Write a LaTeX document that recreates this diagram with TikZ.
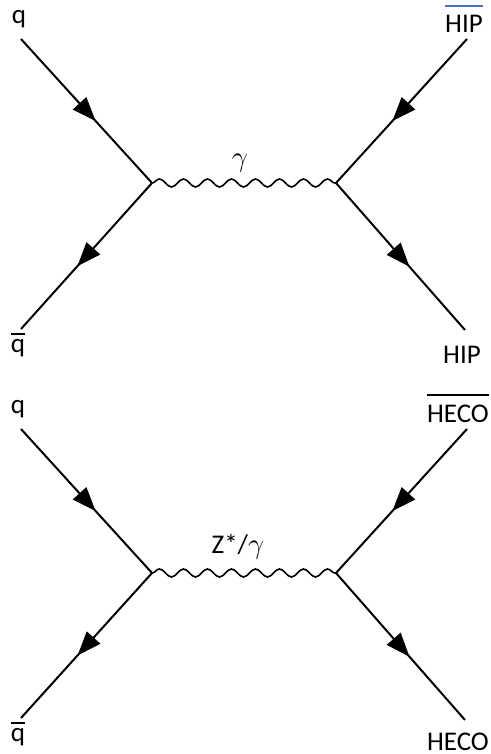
\documentclass[tikz,border=0pt]{standalone}
\usepackage{fontspec}
\setmainfont{Carlito}
\usetikzlibrary{arrows.meta, decorations.pathmorphing, decorations.markings}
\definecolor{hipblue}{RGB}{68,114,196}
\newcommand{\barred}[3][4.2pt]{\setbox0\hbox{#3}\rlap{\color{#2}\rule[\dimexpr\ht0+#1\relax]{\wd0}{0.9pt}}\box0}

\begin{document}
\begin{tikzpicture}[
        fermion/.style={line width=1pt, postaction={decorate}, decoration={markings, mark=at position 0.57 with {\arrow{Triangle[length=12pt,width=9pt]}}}},
        photon/.style={line width=0.8pt, decorate, decoration={snake, amplitude=2pt, segment length=12pt}},
        partname/.style={font=\fontsize{13.5}{16}\selectfont, inner sep=0pt, anchor=base},
        x=0.5pt,y=-0.5pt,
    ]
    \useasboundingbox (0,0) rectangle (491,754);
    % upper diagram
    \coordinate (a0) at (21,39);
    \coordinate (a1) at (21,329);
    \coordinate (a2) at (467,39);
    \coordinate (a3) at (465,330);
    \coordinate (av1) at (152,183);
    \coordinate (av2) at (336,183);
    \node[partname] (aq) at (19,24) {q};
    \node[partname] (aqb) at (18,352) {\barred[2pt]{black}{q}};
    \node[partname] (ahb) at (464,33) {\barred{hipblue}{HIP}};
    \node[partname] (ah) at (462,363) {HIP};
    \node[partname] (ag) at (240,167) {\fontsize{15}{18}\selectfont$\gamma$};
    \draw [fermion] (a0) -- (av1);
    \draw [fermion] (av1) -- (a1);
    \draw [fermion] (a2) -- (av2);
    \draw [fermion] (av2) -- (a3);
    \draw [photon] (av1) -- (av2);
    % lower diagram
    \coordinate (b0) at (21,429);
    \coordinate (b1) at (21,718);
    \coordinate (b2) at (467,429);
    \coordinate (b3) at (465,720);
    \coordinate (bv1) at (152,573);
    \coordinate (bv2) at (336,573);
    \node[partname] (bq) at (18,413) {q};
    \node[partname] (bqb) at (18,741) {\barred[2pt]{black}{q}};
    \node[partname] (bhb) at (458,422) {\barred{black}{HECO}};
    \node[partname] (bh) at (458,750) {HECO};
    \node[partname] (bg) at (238,553) {Z*/\fontsize{15}{18}\selectfont$\gamma$};
    \draw [fermion] (b0) -- (bv1);
    \draw [fermion] (bv1) -- (b1);
    \draw [fermion] (b2) -- (bv2);
    \draw [fermion] (bv2) -- (b3);
    \draw [photon] (bv1) -- (bv2);
\end{tikzpicture}
\end{document}
